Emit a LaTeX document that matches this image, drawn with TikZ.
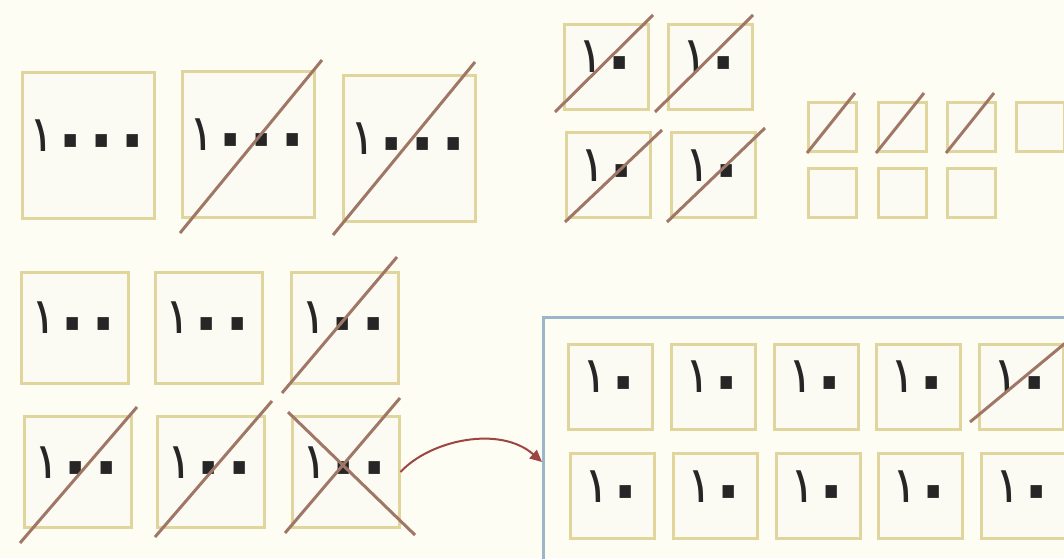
\documentclass[tikz,border=0pt]{standalone}
\usepackage{fontspec}
\newfontfamily\ardigits{DejaVu Sans}
\usetikzlibrary{arrows.meta}
\definecolor{bg}{HTML}{FEFDF4}
\definecolor{boxline}{HTML}{E0D59C}
\definecolor{boxfill}{HTML}{FCFBF3}
\definecolor{slashc}{HTML}{A07766}
\definecolor{framec}{HTML}{9BB5C9}
\definecolor{arrowc}{HTML}{B8514F}
\newcommand\zr{\makebox[0.62em][c]{\raisebox{-0.39em}{\scalebox{2.1}{\makebox[0pt][c]{٠}}}}}
\newcommand\on{١}
\tikzset{
  card/.style={draw=boxline, fill=boxfill, line width=3pt, inner sep=0pt,
    font=\ardigits\fontsize{50}{50}\selectfont, text=black!85},
  thou/.style={card, minimum width=132pt, minimum height=146pt},
  hund/.style={card, minimum width=107pt, minimum height=111pt},
  ten/.style={card, minimum width=84pt, minimum height=85pt},
  unit/.style={card, minimum width=48pt, minimum height=49pt},
  slash/.style={draw=slashc, line width=3pt},
  frameline/.style={draw=framec, line width=3pt},
  curvearrow/.style={draw=arrowc!85!black, line width=2pt, -{Triangle[length=12pt,width=11pt]}}
}
\begin{document}
\begin{tikzpicture}[x=1pt,y=-1pt]
\path[use as bounding box, fill=bg] (0,0) rectangle (1064,558);
\begin{scope}
\clip (0,0) rectangle (1064,558);
% thousands
\node[thou] (t1) at (88.5,145) {\on\zr\zr\zr};
\node[thou] (t2) at (248.5,144) {\on\zr\zr\zr};
\node[thou] (t3) at (409,148) {\on\zr\zr\zr};
\draw[slash] (180,233) -- (322,60);
\draw[slash] (333,235) -- (475,62);
% hundreds
\node[hund] (h1) at (75,327.5) {\on\zr\zr};
\node[hund] (h2) at (208.5,327.5) {\on\zr\zr};
\node[hund] (h3) at (345,327.5) {\on\zr\zr};
\node[hund] (h4) at (77.5,472) {\on\zr\zr};
\node[hund] (h5) at (211,472) {\on\zr\zr};
\node[hund] (h6) at (345.5,472) {\on\zr\zr};
\draw[slash] (282,393) -- (397,257);
\draw[slash] (20,543) -- (137,407);
\draw[slash] (155,537) -- (272,401);
\draw[slash] (285,533) -- (400,398);
\draw[slash] (288,412) -- (415,535);
% tens (top group)
\node[ten] (a1) at (606,66.5) {\on\zr};
\node[ten] (a2) at (710.5,66.5) {\on\zr};
\node[ten] (a3) at (608.5,175) {\on\zr};
\node[ten] (a4) at (713.5,175) {\on\zr};
\draw[slash] (555,112) -- (653,15);
\draw[slash] (655,112) -- (753,15);
\draw[slash] (565,222) -- (662,130);
\draw[slash] (667,222) -- (765,128);
% ones
\node[unit] (u1) at (832.5,127) {};
\node[unit] (u2) at (902,127) {};
\node[unit] (u3) at (971,127) {};
\node[unit] (u4) at (1040,127) {};
\node[unit] (u5) at (832.5,192.5) {};
\node[unit] (u6) at (902,192.5) {};
\node[unit] (u7) at (971,192.5) {};
\draw[slash] (807,153) -- (855,93);
\draw[slash] (876,153) -- (924,93);
\draw[slash] (946,153) -- (994,93);
% frame with tens
\draw[frameline] (543,317) rectangle (1080,570);
\coordinate (fin) at (542,462);
\node[ten] (b1) at (610,386.5) {\on\zr};
\node[ten] (b2) at (713,386.5) {\on\zr};
\node[ten] (b3) at (816,386.5) {\on\zr};
\node[ten] (b4) at (918.5,386.5) {\on\zr};
\node[ten] (b5) at (1021,386.5) {\on\zr};
\node[ten] (c1) at (612,496) {\on\zr};
\node[ten] (c2) at (715,496) {\on\zr};
\node[ten] (c3) at (818,496) {\on\zr};
\node[ten] (c4) at (920.5,496) {\on\zr};
\node[ten] (c5) at (1023,496) {\on\zr};
\draw[slash] (970,422) -- (1075,335);
% arrow
\draw[curvearrow] (h6.east) .. controls (430,440) and (500,425) .. (fin);
\end{scope}
\end{tikzpicture}
\end{document}
